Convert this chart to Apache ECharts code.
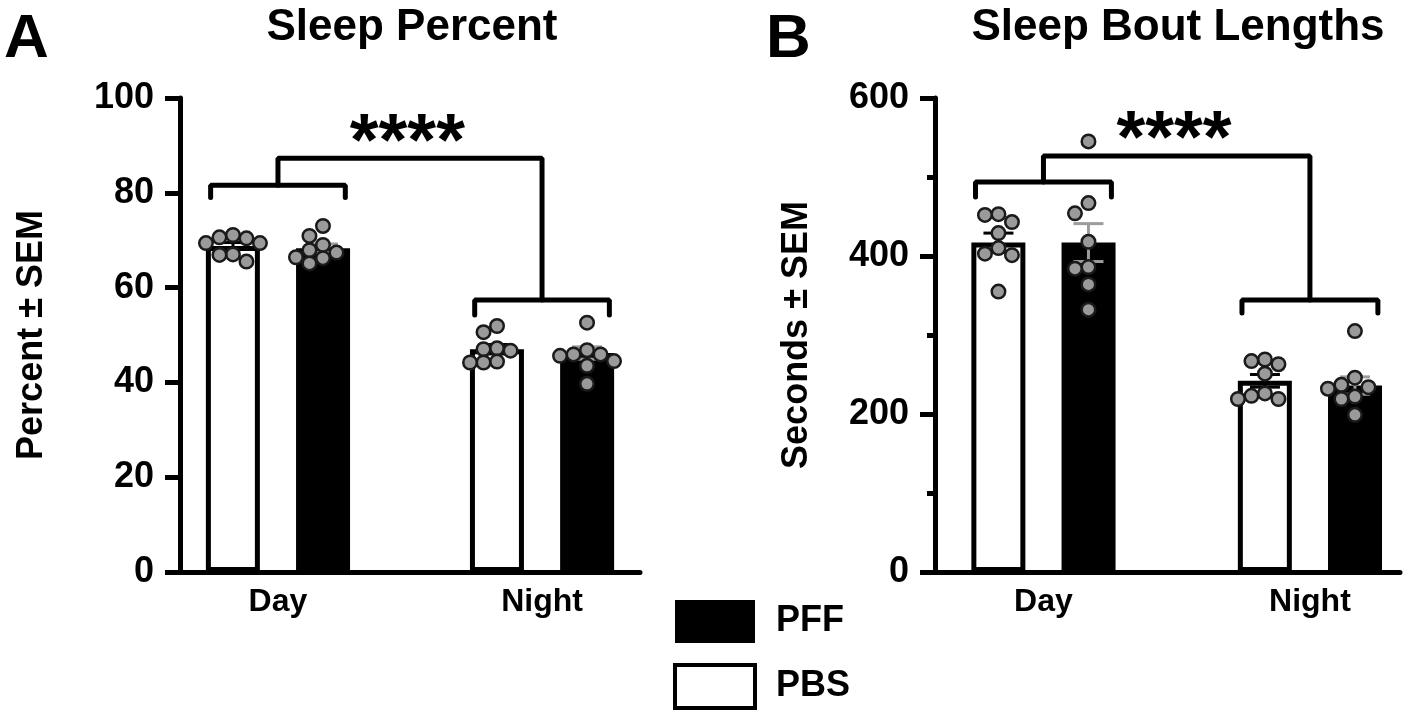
<!DOCTYPE html>
<html>
<head>
<meta charset="utf-8">
<script src="https://cdn.jsdelivr.net/npm/echarts@6/dist/echarts.min.js"></script>
<style>
  html, body { margin: 0; padding: 0; background: #fff; }
  #main { width: 1417px; height: 713px; }
</style>
</head>
<body>
<div id="main"></div>
<script>
// categories + group names
var categories = ['Day', 'Night'];
var groups = ['PBS', 'PFF'];

// Sleep percent: bar means / SEM / individual animals
var pctPBSMean = [68.8, 47.0];
var pctPFFMean = [68.3, 46.2];
var pctPBSSem = [0.7, 1.0];
var pctPFFSem = [0.9, 1.3];
var pctPBSDay = [70.4, 70.6, 69.4, 69.4, 71.1, 66.9, 67.0, 65.5];
var pctPFFDay = [73.0, 70.9, 67.9, 69.0, 67.4, 65.1, 66.2, 66.4];
var pctPBSNight = [50.6, 51.9, 47.2, 46.7, 47.0, 44.2, 44.4, 44.2];
var pctPFFNight = [52.6, 46.8, 45.9, 45.9, 45.6, 44.5, 43.5, 39.7];

// Sleep bout lengths (seconds)
var boutPBSMean = [417, 242];
var boutPFFMean = [417, 236];
var boutPBSSem = [12, 8];
var boutPFFSem = [24, 11];
var boutPBSDay = [452, 453, 443, 429, 410, 401, 403, 355];
var boutPFFDay = [545, 467, 454, 418, 384, 386, 364, 332];
var boutPBSNight = [269, 267, 263, 251, 226, 219, 219, 223];
var boutPFFNight = [305, 246, 232, 234, 237, 222, 219, 199];

// axis ticks
var pctTicks = [0, 20, 40, 60, 80, 100];
var boutTicks = [0, 200, 400, 600];

var FONT = '"Liberation Sans", Arial, Helvetica, sans-serif';
var W = 1417;
var myChart = echarts.init(document.getElementById('main'));

// panel layout
var panels = [
  {left: 180, right: 777, xMin: 0.629, xMax: 2.371, yMax: 100},
  {left: 935, right: 17, xMin: 0.593, xMax: 2.338, yMax: 600}
];
var TOP = 98, BOTTOM = 141, H = 713;
var BAR_W = 54, BAR_OFF = 45; // px: bar width and offset of each bar from group centre

function pxX(p) { return (W - p.left - p.right) / (p.xMax - p.xMin); }
function pxY(p) { return (H - TOP - BOTTOM) / p.yMax; }

// simple beeswarm so dots sit side by side like the prism plot
function swarm(vals, centre, p) {
  var sx = pxX(p), sy = pxY(p);
  var step = 13.5, placed = [], out = [];
  var order = vals.map(function (v, i) { return i; }).sort(function (a, b) { return vals[b] - vals[a]; });
  var cands = [0, -1, 1, -2, 2];
  order.forEach(function (i) {
    var y = vals[i] * sy, off = 0;
    for (var k = 0; k < cands.length; k++) {
      var ox = cands[k] * step, ok = true;
      for (var j = 0; j < placed.length; j++) {
        var dx = placed[j][0] - ox, dy = placed[j][1] - y;
        if (Math.sqrt(dx * dx + dy * dy) < 13) { ok = false; break; }
      }
      if (ok) { off = ox; break; }
    }
    placed.push([off, y]);
    out.push([centre + off / sx, vals[i]]);
  });
  return out;
}

function errRender(color) {
  return function (params, api) {
    var x = api.value(0), m = api.value(1), s = api.value(2);
    var t = api.coord([x, m + s]), b = api.coord([x, m - s]);
    var st = {stroke: color, lineWidth: 3};
    return {
      type: 'group',
      children: [
        {type: 'line', shape: {x1: t[0], y1: t[1], x2: b[0], y2: b[1]}, style: st},
        {type: 'line', shape: {x1: t[0] - 15, y1: t[1], x2: t[0] + 15, y2: t[1]}, style: st},
        {type: 'line', shape: {x1: b[0] - 15, y1: b[1], x2: b[0] + 15, y2: b[1]}, style: st}
      ]
    };
  };
}

function bracketSeries(idx, d) {
  // d: [dayY, dayEnd, topY, nightY, nightEnd]
  var ls = {color: '#000', width: 5, cap: 'round'};
  var base = {type: 'line', xAxisIndex: idx, yAxisIndex: idx, symbol: 'none', silent: true,
    lineStyle: ls, z: 2, animation: false};
  var hw = 0.255;
  return [
    Object.assign({}, base, {data: [[1 - hw, d[1]], [1 - hw, d[0]], [1 + hw, d[0]], [1 + hw, d[1]]]}),
    Object.assign({}, base, {data: [[1, d[0]], [1, d[2]], [2, d[2]], [2, d[3]]]}),
    Object.assign({}, base, {data: [[2 - hw, d[4]], [2 - hw, d[3]], [2 + hw, d[3]], [2 + hw, d[4]]]})
  ];
}

var panelData = [
  {pbsMean: pctPBSMean, pffMean: pctPFFMean, pbsSem: pctPBSSem, pffSem: pctPFFSem,
   pbsPts: [pctPBSDay, pctPBSNight], pffPts: [pctPFFDay, pctPFFNight],
   bracket: [81.6, 79.0, 87.3, 57.4, 54.2], star: [1.49, 90.2]},
  {pbsMean: boutPBSMean, pffMean: boutPFFMean, pbsSem: boutPBSSem, pffSem: boutPFFSem,
   pbsPts: [boutPBSDay, boutPBSNight], pffPts: [boutPFFDay, boutPFFNight],
   bracket: [493.7, 474.7, 526.6, 344.3, 327.8], star: [1.49, 545]}
];

var grids = [], xAxes = [], yAxes = [], series = [];
panels.forEach(function (p, idx) {
  var pd = panelData[idx];
  var off = BAR_OFF / pxX(p);
  grids.push({left: p.left, right: p.right, top: TOP, bottom: BOTTOM});
  xAxes.push({
    type: 'value', gridIndex: idx, min: p.xMin, max: p.xMax,
    splitLine: {show: false},
    axisLine: {show: true, onZero: false, lineStyle: {color: '#000', width: 5}},
    axisTick: {show: false},
    axisLabel: {
      customValues: [1, 2], margin: 14,
      formatter: function (v) { return categories[Math.round(v) - 1] || ''; },
      color: '#000', fontFamily: FONT, fontWeight: 'bold', fontSize: 32
    }
  });
  yAxes.push({
    type: 'value', gridIndex: idx, min: 0, max: p.yMax,
    interval: idx === 0 ? pctTicks[1] - pctTicks[0] : boutTicks[1] - boutTicks[0],
    name: idx === 0 ? 'Percent \u00b1 SEM' : 'Seconds \u00b1 SEM',
    nameLocation: 'middle', nameRotate: 90, nameGap: idx === 0 ? 130 : 120,
    nameTextStyle: {color: '#000', fontFamily: FONT, fontWeight: 'bold', fontSize: 36},
    splitLine: {show: false},
    axisLine: {show: true, lineStyle: {color: '#000', width: 5}},
    axisTick: {show: true, length: 15, lineStyle: {color: '#000', width: 5}},
    minorTick: {show: idx === 1, splitNumber: 2, length: 8, lineStyle: {color: '#000', width: 5}},
    axisLabel: {color: '#000', fontFamily: FONT, fontWeight: 'bold', fontSize: 36, margin: 26}
  });

  series.push({
    name: 'PBS', type: 'bar', xAxisIndex: idx, yAxisIndex: idx,
    barWidth: BAR_W, barGap: '67%', z: 2,
    itemStyle: {color: '#fff', borderColor: '#000', borderWidth: 5},
    data: categories.map(function (c, i) { return [i + 1, pd.pbsMean[i]]; })
  });
  series.push({
    name: 'PFF', type: 'bar', xAxisIndex: idx, yAxisIndex: idx,
    barWidth: BAR_W, z: 2,
    itemStyle: {color: '#000', borderColor: '#000', borderWidth: 5},
    data: categories.map(function (c, i) { return [i + 1, pd.pffMean[i]]; })
  });
  series.push({
    name: 'PBS sem', type: 'custom', xAxisIndex: idx, yAxisIndex: idx, z: 3,
    renderItem: errRender('#000'),
    data: categories.map(function (c, i) { return [i + 1 - off, pd.pbsMean[i], pd.pbsSem[i]]; })
  });
  series.push({
    name: 'PFF sem', type: 'custom', xAxisIndex: idx, yAxisIndex: idx, z: 3,
    renderItem: errRender('#9c9c9c'),
    data: categories.map(function (c, i) { return [i + 1 + off, pd.pffMean[i], pd.pffSem[i]]; })
  });
  var pts = [];
  categories.forEach(function (c, i) {
    pts = pts.concat(swarm(pd.pbsPts[i], i + 1 - off, p));
    pts = pts.concat(swarm(pd.pffPts[i], i + 1 + off, p));
  });
  series.push({
    name: 'animals', type: 'scatter', xAxisIndex: idx, yAxisIndex: idx, z: 4,
    symbolSize: 13.5,
    itemStyle: {color: '#9a9a9a', borderColor: '#1a1a1a', borderWidth: 2.5, opacity: 1},
    data: pts
  });
  series = series.concat(bracketSeries(idx, pd.bracket));
  series.push({
    name: 'stars', type: 'scatter', xAxisIndex: idx, yAxisIndex: idx, z: 5,
    symbolSize: 0, itemStyle: {color: 'transparent'},
    label: {show: true, position: 'inside', formatter: '****', color: '#000', opacity: 1,
      textBorderWidth: 0, fontFamily: FONT, fontWeight: 'bold', fontSize: 74},
    data: [pd.star]
  });
});

var option = {
  animation: false,
  backgroundColor: '#fff',
  grid: grids,
  xAxis: xAxes,
  yAxis: yAxes,
  legend: {
    orient: 'vertical', left: 673, top: 600, itemGap: 20, padding: 0,
    itemWidth: 80, itemHeight: 43, selectedMode: false,
    textStyle: {color: '#000', fontFamily: FONT, fontWeight: 'bold', fontSize: 36, padding: [0, 0, 0, 16]},
    data: [
      {name: 'PFF', icon: 'rect', itemStyle: {color: '#000', borderWidth: 0}},
      {name: 'PBS', icon: 'rect', itemStyle: {color: '#fff', borderColor: '#000', borderWidth: 4}}
    ]
  },
  graphic: [
    {type: 'text', left: 4, top: 9, style: {text: 'A', font: 'bold 62px ' + FONT, fill: '#000'}},
    {type: 'text', left: 766, top: 9, style: {text: 'B', font: 'bold 62px ' + FONT, fill: '#000'}},
    {type: 'text', x: 412, y: 6, style: {text: 'Sleep Percent', font: 'bold 44px ' + FONT, fill: '#000', textAlign: 'center'}},
    {type: 'text', x: 1178, y: 6, style: {text: 'Sleep Bout Lengths', font: 'bold 44px ' + FONT, fill: '#000', textAlign: 'center'}}
  ],
  series: series
};
myChart.setOption(option);
</script>
</body>
</html>
